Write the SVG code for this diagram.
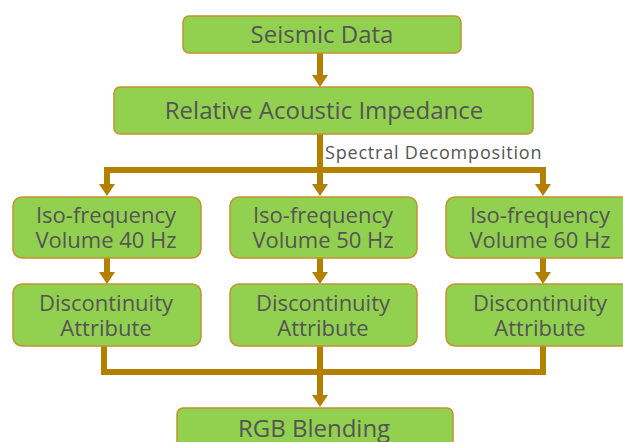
<svg xmlns="http://www.w3.org/2000/svg" width="623" height="442" viewBox="0 0 623 442">
  <defs>
    <style>
      .box { fill: #92D050; stroke: #C4932E; stroke-width: 1.5; }
      .lbl { font-family: "Open Sans", "Noto Sans", sans-serif; font-size: 22px; fill: #555555; text-anchor: middle; }
      .big { font-size: 24px; }
      .side { font-family: "Open Sans", "Noto Sans", sans-serif; font-size: 18px; letter-spacing: 0.8px; fill: #555555; }
      .wire { fill: none; stroke: #B38000; stroke-width: 6; }
      .head { fill: #B38000; }
    </style>
  </defs>
  <rect width="623" height="442" fill="#ffffff"/>

  <!-- connectors -->
  <g id="connectors">
    <!-- Seismic Data to Relative Acoustic Impedance -->
    <path class="wire" d="M320 53 V76"/>
    <polygon class="head" points="312,75 328,75 320,87"/>
    <!-- spectral decomposition fan-out -->
    <path class="wire" d="M320 134 V170 M104 170 H546 M107 167 V186 M320 170 V186 M543 167 V186"/>
    <polygon class="head" points="99,184 115,184 107,196"/>
    <polygon class="head" points="312,184 328,184 320,196"/>
    <polygon class="head" points="535,184 551,184 543,196"/>
    <!-- iso-frequency to discontinuity -->
    <path class="wire" d="M107 258 V274 M320 258 V274 M543 258 V274"/>
    <polygon class="head" points="99,272 115,272 107,284"/>
    <polygon class="head" points="312,272 328,272 320,284"/>
    <polygon class="head" points="535,272 551,272 543,284"/>
    <!-- merge into RGB blending -->
    <path class="wire" d="M104 346 V372 H546 M543 346 V372 M320 346 V397"/>
    <polygon class="head" points="312,395 328,395 320,407"/>
  </g>
  <text class="side" x="325" y="159">Spectral Decomposition</text>

  <g id="seismic-data">
    <rect class="box" x="183" y="16" width="278" height="37" rx="6"/>
    <text class="lbl big" x="322" y="43">Seismic Data</text>
  </g>

  <g id="relative-acoustic-impedance">
    <rect class="box" x="114" y="87" width="419" height="47" rx="6"/>
    <text class="lbl big" x="324" y="119">Relative Acoustic Impedance</text>
  </g>

  <g id="iso-40">
    <rect class="box" x="13" y="197" width="188" height="61" rx="9"/>
    <text class="lbl" x="106" y="223">Iso-frequency</text>
    <text class="lbl" x="106" y="248">Volume 40 Hz</text>
  </g>

  <g id="iso-50">
    <rect class="box" x="230" y="197" width="187" height="61" rx="9"/>
    <text class="lbl" x="323" y="223">Iso-frequency</text>
    <text class="lbl" x="323" y="248">Volume 50 Hz</text>
  </g>

  <g id="iso-60">
    <rect class="box" x="446" y="197" width="188" height="61" rx="9"/>
    <text class="lbl" x="540" y="223">Iso-frequency</text>
    <text class="lbl" x="540" y="248">Volume 60 Hz</text>
  </g>

  <g id="disc-40">
    <rect class="box" x="13" y="284" width="188" height="62" rx="9"/>
    <text class="lbl" x="106" y="311">Discontinuity</text>
    <text class="lbl" x="106" y="336">Attribute</text>
  </g>

  <g id="disc-50">
    <rect class="box" x="230" y="284" width="187" height="62" rx="9"/>
    <text class="lbl" x="323" y="311">Discontinuity</text>
    <text class="lbl" x="323" y="336">Attribute</text>
  </g>

  <g id="disc-60">
    <rect class="box" x="446" y="284" width="188" height="62" rx="9"/>
    <text class="lbl" x="540" y="311">Discontinuity</text>
    <text class="lbl" x="540" y="336">Attribute</text>
  </g>

  <g id="rgb-blending">
    <rect class="box" x="177" y="408" width="276" height="50" rx="6"/>
    <text class="lbl big" x="314" y="437">RGB Blending</text>
  </g>
</svg>
